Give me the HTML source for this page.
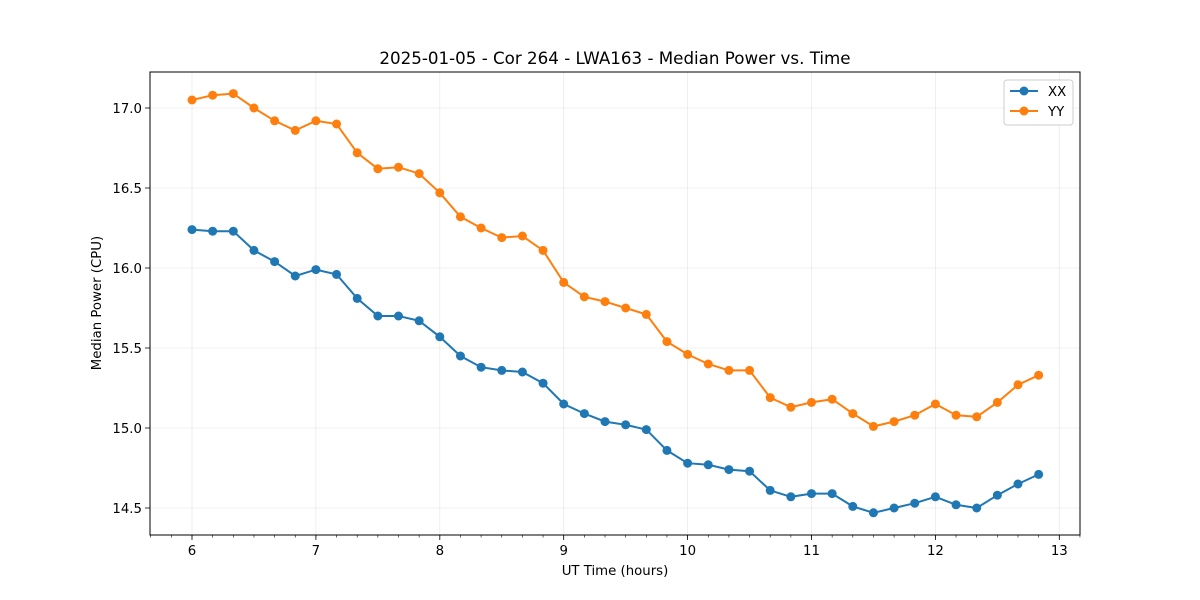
<!DOCTYPE html>
<html><head><meta charset="utf-8"><style>
body{margin:0;background:#fff;}
svg{display:block;font-family:"DejaVu Sans","Liberation Sans",sans-serif;}
</style></head><body>
<svg id="chart" width="1200" height="600"></svg>
<script>
const hours = [];
for (let i = 0; i < 42; i++) hours.push(6 + i / 6);
const xxValues = [16.24,16.23,16.23,16.11,16.04,15.95,15.99,15.96,15.81,15.70,15.70,15.67,15.57,15.45,15.38,15.36,15.35,15.28,15.15,15.09,15.04,15.02,14.99,14.86,14.78,14.77,14.74,14.73,14.61,14.57,14.59,14.59,14.51,14.47,14.50,14.53,14.57,14.52,14.50,14.58,14.65,14.71];
const yyValues = [17.05,17.08,17.09,17.00,16.92,16.86,16.92,16.90,16.72,16.62,16.63,16.59,16.47,16.32,16.25,16.19,16.20,16.11,15.91,15.82,15.79,15.75,15.71,15.54,15.46,15.40,15.36,15.36,15.19,15.13,15.16,15.18,15.09,15.01,15.04,15.08,15.15,15.08,15.07,15.16,15.27,15.33];
const xTicks = [6,7,8,9,10,11,12,13];
const yTicks = [14.5,15.0,15.5,16.0,16.5,17.0];
const yTickLabels = ["14.5","15.0","15.5","16.0","16.5","17.0"];

const L=150,R=1080,T=72,B=535;
const xs = h => 192 + (h-6)*123.9;
const ys = v => 508 - (v-14.5)*160;
const NS="http://www.w3.org/2000/svg";
const svg=document.getElementById('chart');
function mk(tag,attrs,parent){const e=document.createElementNS(NS,tag);for(const k in attrs)e.setAttribute(k,attrs[k]);(parent||svg).appendChild(e);return e;}

const title=mk('text',{x:615,y:64,'text-anchor':'middle','font-size':16.7,fill:'#000'});
title.textContent='2025-01-05 - Cor 264 - LWA163 - Median Power vs. Time';



xTicks.forEach(t=>{
  const g=mk('line',{x1:xs(t),x2:xs(t),y1:T,y2:B,stroke:'#b0b0b0','stroke-width':0.8,'stroke-opacity':0.25});
  
  
  mk('line',{x1:xs(t),x2:xs(t),y1:B,y2:B+5,stroke:'#000','stroke-width':0.8});
  const lb=mk('text',{x:xs(t),y:B+20,'text-anchor':'middle','font-size':13.3});
  lb.textContent=t;
  
  
});
for(let m=5.5+1/6;m<13.2;m+=1/6){
  if(xs(m)<L||xs(m)>R)continue;
  mk('line',{x1:xs(m),x2:xs(m),y1:B,y2:B+2.5,stroke:'#000','stroke-width':0.6});
}
yTicks.forEach((t,i)=>{
  const g=mk('line',{x1:L,x2:R,y1:ys(t),y2:ys(t),stroke:'#b0b0b0','stroke-width':0.8,'stroke-opacity':0.25});
  
  
  mk('line',{x1:L-5,x2:L,y1:ys(t),y2:ys(t),stroke:'#000','stroke-width':0.8});
  const lb=mk('text',{x:L-8,y:ys(t)+5,'text-anchor':'end','font-size':13.3});
  lb.textContent=yTickLabels[i];
  
  
});
const frame=mk('rect',{x:L,y:T,width:R-L,height:B-T,fill:'none',stroke:'#000','stroke-width':1});



const xl=mk('text',{x:615,y:575,'text-anchor':'middle','font-size':13.3});
xl.textContent='UT Time (hours)';


const yl=mk('text',{x:101,y:303,'text-anchor':'middle','font-size':13.3,transform:'rotate(-90 101 303)'});
yl.textContent='Median Power (CPU)';



function series(vals,color,name){
  const p=mk('polyline',{points:vals.map((v,i)=>xs(hours[i])+','+ys(v)).join(' '),fill:'none',stroke:color,'stroke-width':2});
  
  
  vals.forEach((v,i)=>{
    const c=mk('circle',{cx:xs(hours[i]),cy:ys(v),r:4.5,fill:color});
    
    
  });
}
series(xxValues,'#1f77b4','xx');
series(yyValues,'#ff7f0e','yy');

const lg=mk('g',{});


mk('rect',{x:1004,y:80,width:69,height:45,rx:3,fill:'#fff','fill-opacity':0.8,stroke:'#ccc'},lg);
[['XX','#1f77b4',91],['YY','#ff7f0e',111]].forEach(([n,c,y])=>{
  mk('line',{x1:1010,x2:1038,y1:y,y2:y,stroke:c,'stroke-width':2},lg);
  mk('circle',{cx:1024,cy:y,r:4.5,fill:c},lg);
  const t=mk('text',{x:1048,y:y+5,'font-size':13.3},lg);
  t.textContent=n;
  
  
});
</script>
</body></html>
